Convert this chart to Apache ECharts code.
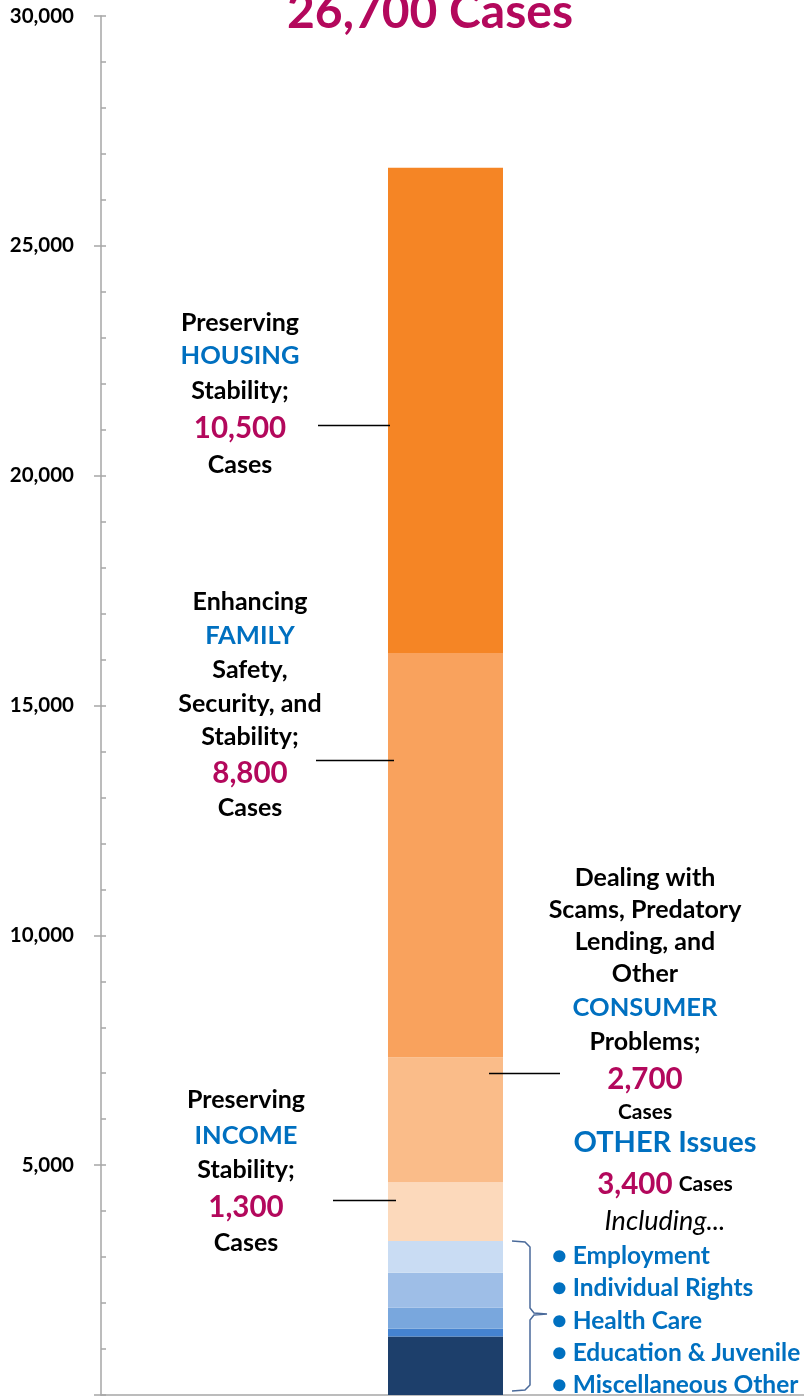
<!DOCTYPE html>
<html>
<head>
<meta charset="utf-8">
<script src="https://cdn.jsdelivr.net/npm/echarts@6/dist/echarts.min.js"></script>
<style>
  html, body { margin: 0; padding: 0; background: #fff; }
  #main { width: 804px; height: 1396px; }
</style>
</head>
<body>
<div id="main"></div>
<script>
// stacked from bottom to top
const categories = ['All Cases'];
const segmentNames = ['Miscellaneous Other', 'Education & Juvenile', 'Health Care', 'Individual Rights',
  'Employment', 'INCOME', 'CONSUMER', 'FAMILY', 'HOUSING'];
const segmentValues = [1270, 170, 460, 760, 690, 1280, 2720, 8790, 10560];
const segmentColors = ['#1d3f6b', '#4583d0', '#79a7dd', '#9ebee7', '#c9dcf3',
  '#fcd9bb', '#fabc89', '#f9a25d', '#f58525'];
const otherItems = ['Employment', 'Individual Rights', 'Health Care', 'Education & Juvenile', 'Miscellaneous Other'];

const FONT = 'Lato';
const BLUE = '#0070c0';
const MAGENTA = '#b3085c';

const styles = {
  b: { fontSize: 25, fontWeight: 'bold', fill: '#000' },
  blue: { fontSize: 25.5, fontWeight: 'bold', fill: BLUE },
  num: { fontSize: 29.5, fontWeight: 'bold', fill: MAGENTA },
  small: { fontSize: 21, fontWeight: 'bold', fill: '#000' },
  big: { fontSize: 29, fontWeight: 'bold', fill: BLUE },
  ital: { fontSize: 27, fontStyle: 'italic', fill: '#000' }
};

function block(x, items) {
  return items.map(([y, text, s]) => ({
    type: 'text',
    x: x, y: y, z: 100,
    style: Object.assign({ text: text, fontFamily: FONT, align: 'center', verticalAlign: 'middle' }, styles[s])
  }));
}

function leader(x1, x2, y) {
  return { type: 'line', z: 100, shape: { x1: x1, y1: y + 0.5, x2: x2, y2: y + 0.5 },
    style: { stroke: '#000', lineWidth: 1.5 } };
}

const chart = echarts.init(document.getElementById('main'));

const graphics = [].concat(
  [{
    type: 'text', x: 430, y: 13, z: 100,
    style: { text: '26,700 Cases', fontFamily: FONT, fontSize: 48, fontWeight: 'bold', fill: MAGENTA,
      align: 'center', verticalAlign: 'middle' }
  }],
  block(240, [[323, 'Preserving', 'b'], [356, 'HOUSING', 'blue'], [391, 'Stability;', 'b'],
    [428, '10,500', 'num'], [465, 'Cases', 'b']]),
  block(250, [[602, 'Enhancing', 'b'], [636, 'FAMILY', 'blue'], [670, 'Safety,', 'b'],
    [704, 'Security, and', 'b'], [737, 'Stability;', 'b'], [773, '8,800', 'num'], [808, 'Cases', 'b']]),
  block(645, [[878, 'Dealing with', 'b'], [910, 'Scams, Predatory', 'b'], [942, 'Lending, and', 'b'],
    [974, 'Other', 'b'], [1008, 'CONSUMER', 'blue'], [1042, 'Problems;', 'b'], [1079, '2,700', 'num'],
    [1112, 'Cases', 'small']]),
  block(246, [[1100, 'Preserving', 'b'], [1136, 'INCOME', 'blue'], [1170, 'Stability;', 'b'],
    [1207, '1,300', 'num'], [1243, 'Cases', 'b']]),
  block(665, [[1143, 'OTHER Issues', 'big'], [1221, 'Including...', 'ital']]),
  [{
    type: 'text', x: 665, y: 1184, z: 100,
    style: {
      text: '{n|3,400}  {c|Cases}', fontFamily: FONT, align: 'center', verticalAlign: 'middle',
      rich: {
        n: { fontFamily: FONT, fontSize: 29.5, fontWeight: 'bold', fill: MAGENTA },
        c: { fontFamily: FONT, fontSize: 21, fontWeight: 'bold', fill: '#000' }
      }
    }
  }],
  otherItems.map((t, i) => ({
    type: 'text', x: 552, y: 1256 + i * 32.3, z: 100,
    style: { text: '\u25CF ' + t, fontFamily: FONT, fontSize: 24.5, fontWeight: 'bold', fill: BLUE,
      align: 'left', verticalAlign: 'middle' }
  })),
  [
    leader(318, 390, 425),
    leader(316, 394, 760),
    leader(489, 560, 1073),
    leader(333, 396, 1200),
    {
      type: 'polyline', z: 100,
      shape: { points: [[512, 1241], [525, 1242], [530, 1247], [530, 1308], [534, 1313], [547, 1314],
        [534, 1315], [530, 1320], [530, 1385], [525, 1390], [512, 1391]] },
      style: { stroke: '#4a6a9a', lineWidth: 1.5, fill: null }
    },
    { type: 'line', shape: { x1: 790, y1: 1395, x2: 804, y2: 1395 }, style: { stroke: '#a6a6a6', lineWidth: 1.5 } }
  ]
);

const axisGray = '#a6a6a6';

chart.setOption({
  animation: false,
  grid: { left: 101, right: 14, top: 16, bottom: 1 },
  xAxis: {
    type: 'category',
    data: categories,
    axisLine: { lineStyle: { color: axisGray, width: 1.5 } },
    axisTick: { show: false },
    axisLabel: { show: false }
  },
  yAxis: [{
    type: 'value',
    min: 0, max: 30000, interval: 5000,
    axisLine: { show: true, lineStyle: { color: axisGray, width: 1.5 } },
    axisTick: { show: true, inside: true, length: 5, lineStyle: { color: axisGray, width: 1.5 } },
    minorTick: { show: true, splitNumber: 5, length: 5, lineStyle: { color: axisGray, width: 1.5 } },
    splitLine: { show: false },
    axisLabel: {
      margin: 27, fontFamily: FONT, fontSize: 20.5, fontWeight: 'bold', color: '#000',
      formatter: v => v === 0 ? '' : v.toLocaleString('en-US')
    }
  }, {
    type: 'value',
    position: 'left',
    min: 0, max: 30000, interval: 5000,
    axisLine: { show: false },
    axisTick: { show: true, inside: false, length: 7, lineStyle: { color: axisGray, width: 1.5 } },
    splitLine: { show: false },
    axisLabel: { show: false }
  }],
  series: segmentNames.map((name, i) => ({
    name: name,
    type: 'bar',
    stack: 'total',
    barWidth: 115,
    itemStyle: { color: segmentColors[i] },
    data: [segmentValues[i]]
  })),
  graphic: graphics
});
</script>
</body>
</html>
